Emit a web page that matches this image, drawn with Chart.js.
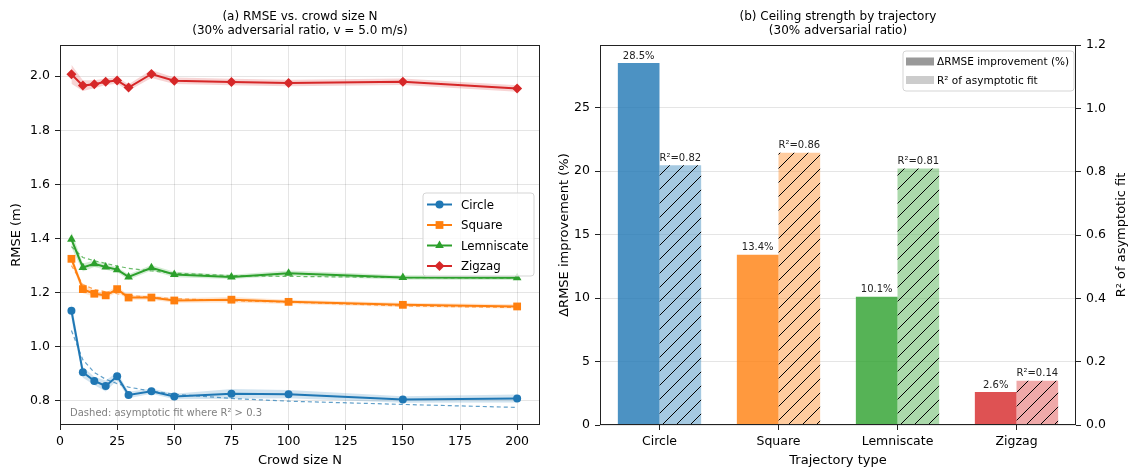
<!DOCTYPE html>
<html>
<head>
<meta charset="utf-8">
<script src="https://cdn.jsdelivr.net/npm/chart.js@4.4.1/dist/chart.umd.min.js"></script>
<style>
  html, body { margin: 0; padding: 0; background: #fff; }
  #wrap { position: relative; width: 1131px; height: 471px; }
  .panel { position: absolute; top: 0; height: 471px; }
  #left { left: 0; width: 555px; }
  #right { left: 555px; width: 576px; }
</style>
</head>
<body>
<div id="wrap">
  <div class="panel" id="left"><canvas id="rmseChart"></canvas></div>
  <div class="panel" id="right"><canvas id="ceilingChart"></canvas></div>
</div>
<script>
// Panel (a) data
const crowdSizes = [5, 10, 15, 20, 25, 30, 40, 50, 75, 100, 150, 200];
const circleRmse = [1.133, 0.906, 0.874, 0.855, 0.891, 0.822, 0.836, 0.816, 0.826, 0.825, 0.805, 0.809];
const squareRmse = [1.325, 1.213, 1.196, 1.190, 1.213, 1.182, 1.182, 1.171, 1.174, 1.166, 1.155, 1.149];
const lemniscateRmse = [1.397, 1.293, 1.307, 1.295, 1.285, 1.258, 1.292, 1.267, 1.258, 1.272, 1.256, 1.255];
const zigzagRmse = [2.007, 1.965, 1.970, 1.979, 1.984, 1.958, 2.008, 1.983, 1.978, 1.975, 1.979, 1.954];

// half-width of the shaded band
const circleSpread = [0.03, 0.02, 0.015, 0.02, 0.015, 0.012, 0.01, 0.01, 0.018, 0.015, 0.012, 0.015];
const squareSpread = [0.015, 0.015, 0.01, 0.01, 0.012, 0.008, 0.008, 0.008, 0.01, 0.008, 0.008, 0.008];
const lemniscateSpread = [0.03, 0.015, 0.012, 0.01, 0.01, 0.01, 0.01, 0.01, 0.008, 0.01, 0.008, 0.008];
const zigzagSpread = [0.035, 0.02, 0.015, 0.012, 0.012, 0.012, 0.015, 0.012, 0.012, 0.012, 0.012, 0.012];

// dashed asymptotic fits (only where R² > 0.3)
const circleFit = [1.06, 0.952, 0.905, 0.88, 0.864, 0.851, 0.836, 0.825, 0.809, 0.799, 0.787, 0.776];
const squareFit = [1.30, 1.23, 1.212, 1.203, 1.196, 1.19, 1.183, 1.178, 1.17, 1.165, 1.151, 1.145];
const lemniscateFit = [1.37, 1.33, 1.318, 1.308, 1.298, 1.29, 1.28, 1.272, 1.263, 1.26, 1.256, 1.253];

const crowdTicks = [0, 25, 50, 75, 100, 125, 150, 175, 200];
const rmseTicks = [0.8, 1.0, 1.2, 1.4, 1.6, 1.8, 2.0];

// Panel (b) data
const trajectories = ['Circle', 'Square', 'Lemniscate', 'Zigzag'];
const improvementPct = [28.5, 13.4, 10.1, 2.6];
const fitR2 = [0.82, 0.86, 0.81, 0.14];
const improvementTicks = [0, 5, 10, 15, 20, 25];
const r2Ticks = [0, 0.2, 0.4, 0.6, 0.8, 1.0, 1.2];

const FONT = "'DejaVu Sans', sans-serif";
const TICK = 12.5, LABEL = 13, TITLE = 12;
Chart.defaults.font.family = FONT;
Chart.defaults.font.size = 12;
Chart.defaults.color = '#000';
Chart.defaults.animation = false;

const colors = ['31,119,180', '255,127,14', '44,160,44', '214,39,40'];
const rgba = (c, a) => 'rgba(' + c + ',' + a + ')';

const series = [
  { name: 'Circle', values: circleRmse, spread: circleSpread, fit: circleFit, marker: 'circle', radius: 4 },
  { name: 'Square', values: squareRmse, spread: squareSpread, fit: squareFit, marker: 'rect', radius: 5.5 },
  { name: 'Lemniscate', values: lemniscateRmse, spread: lemniscateSpread, fit: lemniscateFit, marker: 'triangle', radius: 5 },
  { name: 'Zigzag', values: zigzagRmse, spread: zigzagSpread, fit: null, marker: 'rectRot', radius: 5 }
];

function pts(arr) { return crowdSizes.map((n, i) => ({ x: n, y: arr[i] })); }

const lineSets = [], fitSets = [], bandSets = [];
series.forEach((s, k) => {
  const col = rgba(colors[k], 1);
  lineSets.push({
    label: s.name, data: pts(s.values), borderColor: col, backgroundColor: col,
    borderWidth: 2, pointStyle: s.marker, pointRadius: s.radius, pointBorderWidth: 0,
    pointBackgroundColor: col, tension: 0, fill: false
  });
  if (s.fit) {
    fitSets.push({
      label: s.name + ' fit', data: pts(s.fit), borderColor: rgba(colors[k], 0.7),
      borderWidth: 1.2, borderDash: [4, 3], pointRadius: 0, fill: false
    });
  }
  bandSets.push({
    label: s.name + ' hi', data: pts(s.values.map((v, i) => v + s.spread[i])),
    borderWidth: 0, pointRadius: 0, fill: '+1', backgroundColor: rgba(colors[k], 0.2)
  });
  bandSets.push({
    label: s.name + ' lo', data: pts(s.values.map((v, i) => v - s.spread[i])),
    borderWidth: 0, pointRadius: 0, fill: false
  });
});

function roundBox(ctx, x, y, w, h, r) {
  ctx.beginPath();
  ctx.moveTo(x + r, y);
  ctx.lineTo(x + w - r, y); ctx.arcTo(x + w, y, x + w, y + r, r);
  ctx.lineTo(x + w, y + h - r); ctx.arcTo(x + w, y + h, x + w - r, y + h, r);
  ctx.lineTo(x + r, y + h); ctx.arcTo(x, y + h, x, y + h - r, r);
  ctx.lineTo(x, y + r); ctx.arcTo(x, y, x + r, y, r);
  ctx.closePath();
}

// titles + frame shared by both panels
function panelPlugin(lines, extra) {
  return {
    id: 'panelDeco',
    afterDraw(chart) {
      const ctx = chart.ctx, a = chart.chartArea;
      ctx.save();
      ctx.strokeStyle = '#222';
      ctx.lineWidth = 1;
      ctx.strokeRect(Math.round(a.left) + 0.5, Math.round(a.top) + 0.5,
        Math.round(a.right - a.left) - 1, Math.round(a.bottom - a.top) - 1);
      ctx.fillStyle = '#000';
      ctx.font = TITLE + 'px ' + FONT;
      ctx.textAlign = 'center';
      ctx.textBaseline = 'middle';
      const cx = (a.left + a.right) / 2;
      ctx.fillText(lines[0], cx, 17);
      ctx.fillText(lines[1], cx, 31);
      ctx.restore();
      if (extra) extra(chart);
    }
  };
}

function leftExtras(chart) {
  const ctx = chart.ctx, a = chart.chartArea;
  ctx.save();
  // note
  ctx.fillStyle = '#808080';
  ctx.font = '10px ' + FONT;
  ctx.textAlign = 'left';
  ctx.textBaseline = 'middle';
  ctx.fillText('Dashed: asymptotic fit where R\u00b2 > 0.3', a.left + 10, a.bottom - 12);
  // legend
  const bx = a.right - 117, by = 193, bw = 111, bh = 83;
  roundBox(ctx, bx, by, bw, bh, 3);
  ctx.fillStyle = 'rgba(255,255,255,0.8)';
  ctx.fill();
  ctx.strokeStyle = '#d5d5d5';
  ctx.stroke();
  ctx.font = '11.8px ' + FONT;
  series.forEach((s, k) => {
    const y = by + 11.5 + k * 20.5;
    const col = rgba(colors[k], 1);
    ctx.strokeStyle = col;
    ctx.lineWidth = 2;
    ctx.beginPath();
    ctx.moveTo(bx + 4, y); ctx.lineTo(bx + 29, y);
    ctx.stroke();
    ctx.fillStyle = col;
    Chart.helpers.drawPoint(ctx, { pointStyle: s.marker, radius: s.radius, borderWidth: 0, rotation: 0 }, bx + 16.5, y);
    ctx.fillStyle = '#000';
    ctx.fillText(s.name, bx + 38, y + 1);
  });
  ctx.restore();
}

new Chart(document.getElementById('rmseChart'), {
  type: 'line',
  data: { datasets: lineSets.concat(fitSets, bandSets) },
  options: {
    responsive: true,
    maintainAspectRatio: false,
    layout: { padding: { top: 45, right: 15, left: 0, bottom: 0 } },
    plugins: { legend: { display: false }, tooltip: { enabled: false } },
    scales: {
      x: {
        type: 'linear', min: 0, max: 210,
        afterBuildTicks: s => { s.ticks = crowdTicks.map(v => ({ value: v })); },
        afterFit: s => { s.height = 46; },
        grid: { color: 'rgba(0,0,0,0.1)', tickColor: '#222', tickLength: 5 },
        border: { display: false },
        ticks: { padding: 4, font: { size: TICK }, maxRotation: 0 },
        title: { display: true, text: 'Crowd size N', font: { size: LABEL }, padding: { top: 0, bottom: 2.5 } }
      },
      y: {
        min: 0.711, max: 2.115,
        afterBuildTicks: s => { s.ticks = rmseTicks.map(v => ({ value: v })); },
        afterFit: s => { s.width = 60; },
        grid: { color: 'rgba(0,0,0,0.1)', tickColor: '#222', tickLength: 5 },
        border: { display: false },
        ticks: { padding: 5, font: { size: TICK }, callback: v => v.toFixed(1) },
        title: { display: true, text: 'RMSE (m)', font: { size: LABEL }, padding: { top: 9, bottom: 0 } }
      }
    }
  },
  plugins: [panelPlugin(['(a) RMSE vs. crowd size N', '(30% adversarial ratio, v = 5.0 m/s)'], leftExtras)]
});

// Panel (b)
function hatch(fill) {
  const n = 14;
  const c = document.createElement('canvas');
  c.width = n; c.height = n;
  const g = c.getContext('2d');
  g.fillStyle = fill;
  g.fillRect(0, 0, n, n);
  g.strokeStyle = '#000';
  g.lineWidth = 1;
  g.beginPath();
  g.moveTo(-1, n + 1); g.lineTo(n + 1, -1);
  g.moveTo(-1, 1); g.lineTo(1, -1);
  g.moveTo(n - 1, n + 1); g.lineTo(n + 1, n - 1);
  g.stroke();
  return g.createPattern(c, 'repeat');
}

const solidColors = colors.map(c => rgba(c, 0.8));
const hatchColors = colors.map(c => hatch(rgba(c, 0.4)));

function rightExtras(chart) {
  const ctx = chart.ctx, a = chart.chartArea;
  ctx.save();
  // bar labels
  ctx.fillStyle = '#222';
  ctx.font = '10px ' + FONT;
  ctx.textAlign = 'center';
  ctx.textBaseline = 'bottom';
  chart.getDatasetMeta(0).data.forEach((el, i) => {
    ctx.fillText(improvementPct[i].toFixed(1) + '%', el.x, el.y - 2);
  });
  chart.getDatasetMeta(1).data.forEach((el, i) => {
    ctx.fillText('R\u00b2=' + fitR2[i].toFixed(2), el.x, el.y - 2);
  });
  // right axis title
  ctx.save();
  ctx.translate(chart.width - 9, (a.top + a.bottom) / 2);
  ctx.rotate(-Math.PI / 2);
  ctx.fillStyle = '#000';
  ctx.font = LABEL + 'px ' + FONT;
  ctx.textAlign = 'center';
  ctx.textBaseline = 'middle';
  ctx.fillText('R\u00b2 of asymptotic fit', 0, 0);
  ctx.restore();
  // legend
  const bx = a.right - 173, by = 51, bw = 171, bh = 40;
  roundBox(ctx, bx, by, bw, bh, 3);
  ctx.fillStyle = 'rgba(255,255,255,0.8)';
  ctx.fill();
  ctx.strokeStyle = '#d5d5d5';
  ctx.lineWidth = 1;
  ctx.stroke();
  const items = [['rgba(128,128,128,0.8)', '\u0394RMSE improvement (%)'], ['rgba(128,128,128,0.4)', 'R\u00b2 of asymptotic fit']];
  ctx.font = '10.5px ' + FONT;
  ctx.textAlign = 'left';
  ctx.textBaseline = 'middle';
  items.forEach((it, k) => {
    const y = by + 10.5 + k * 18.5;
    ctx.fillStyle = it[0];
    ctx.fillRect(bx + 3, y - 4, 28, 8);
    ctx.fillStyle = '#000';
    ctx.fillText(it[1], bx + 34, y + 1);
  });
  ctx.restore();
}

new Chart(document.getElementById('ceilingChart'), {
  type: 'bar',
  data: {
    labels: trajectories,
    datasets: [
      { label: '\u0394RMSE improvement (%)', data: improvementPct, yAxisID: 'y',
        backgroundColor: solidColors, borderWidth: 0, categoryPercentage: 0.7, barPercentage: 1.0 },
      { label: 'R\u00b2 of asymptotic fit', data: fitR2, yAxisID: 'y1',
        backgroundColor: hatchColors, borderWidth: 0, categoryPercentage: 0.7, barPercentage: 1.0 }
    ]
  },
  options: {
    responsive: true,
    maintainAspectRatio: false,
    layout: { padding: { top: 45, right: 0, left: 0, bottom: 0 } },
    plugins: { legend: { display: false }, tooltip: { enabled: false } },
    scales: {
      x: {
        afterFit: s => { s.height = 46; },
        grid: { offset: false, drawOnChartArea: false, color: 'rgba(0,0,0,0)', tickColor: '#222', tickLength: 5 },
        border: { display: false },
        ticks: { padding: 4, font: { size: TICK } },
        title: { display: true, text: 'Trajectory type', font: { size: LABEL }, padding: { top: 0, bottom: 2.5 } }
      },
      y: {
        position: 'left', min: 0, max: 29.925,
        afterBuildTicks: s => { s.ticks = improvementTicks.map(v => ({ value: v })); },
        afterFit: s => { s.width = 45; },
        grid: { color: 'rgba(0,0,0,0.1)', tickColor: '#222', tickLength: 5 },
        border: { display: false },
        ticks: { padding: 5, font: { size: TICK } },
        title: { display: true, text: '\u0394RMSE improvement (%)', font: { size: LABEL }, padding: { top: 2, bottom: 0 } }
      },
      y1: {
        position: 'right', min: 0, max: 1.2,
        afterBuildTicks: s => { s.ticks = r2Ticks.map(v => ({ value: v })); },
        afterFit: s => { s.width = 55; },
        grid: { drawOnChartArea: false, tickColor: '#222', tickLength: 5 },
        border: { display: false },
        ticks: { padding: 5, font: { size: TICK }, callback: v => v.toFixed(1) }
      }
    }
  },
  plugins: [panelPlugin(['(b) Ceiling strength by trajectory', '(30% adversarial ratio)'], rightExtras)]
});
</script>
</body>
</html>
